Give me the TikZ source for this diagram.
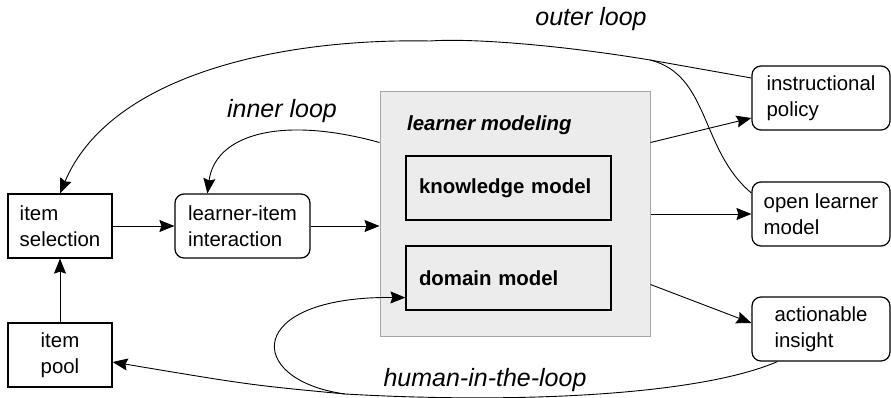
\documentclass[tikz,border=0pt]{standalone}
\usepackage{fontspec}
\setmainfont{Liberation Sans}
\usetikzlibrary{arrows.meta,calc}
\begin{document}
\begin{tikzpicture}[x=1pt,y=-1pt,
 box/.style={draw, line width=1.2pt, minimum height=64pt, align=left, inner sep=0pt, font=\fontsize{20.4}{25.5}\selectfont},
 rbox/.style={box, rounded corners=9pt},
 inbox/.style={draw, line width=1.2pt, fill=gray!15, minimum height=64pt, text width=179pt, inner xsep=13pt, inner ysep=0pt, align=left, font=\fontsize{20.4}{25}\selectfont\bfseries},
 conn/.style={line width=0.9pt, -{Stealth[length=15pt,width=12pt,inset=2pt]}},
 plainline/.style={line width=0.9pt},
 looplabel/.style={font=\fontsize{25}{30}\selectfont\itshape, anchor=base, inner sep=0pt}
]
\useasboundingbox (0,0) rectangle (891,398);

\node[box, minimum width=104pt] (sel) at (60,226) {item\\selection};
\node[box, minimum width=104pt] (pool) at (60,355) {item\\pool};
\node[rbox, minimum width=135pt] (lii) at (242.5,226) {learner-item\\interaction};
\node[draw=black!35, fill=gray!15, line width=1pt, minimum width=270pt, minimum height=244pt, inner sep=0pt] (lm) at (515,214) {};
\node[font=\fontsize{20.4}{25}\selectfont\bfseries\itshape, anchor=base west, inner sep=0pt] (lmlabel) at (407,131) {learner modeling};
\node[inbox] (km) at (508.5,188) {knowledge model};
\node[inbox] (dom) at (508.5,278) {domain model};
\node[rbox, minimum width=138pt] (ip) at (821,98) {instructional\\policy};
\node[rbox, minimum width=138pt] (olm) at (821,214) {open learner\\model};
\node[rbox, minimum width=138pt] (ai) at (821,329) {actionable\\insight};

\node[looplabel] (outer) at (591,26) {outer loop};
\node[looplabel] (inner) at (282,118) {inner loop};
\node[looplabel] (human) at (485,386) {human-in-the-loop};

% main flow
\draw[conn] (sel.east) -- (lii.west);
\draw[conn] (lii.east) -- (lii.east -| lm.west);
\draw[conn] (pool.north) -- (sel.south);
\draw[conn] ($(lm.north east)+(0,51)$) -- ($(ip.west)+(0,20)$);
\draw[conn] (lm.east) -- (olm.west);
\draw[conn] ($(lm.north east)+(0,193)$) -- ($(ai.west)+(0,-6)$);

% inner loop
\draw[conn] ($(lm.north west)+(0,51)$) .. controls (280,115) and (215,135) .. ($(lii.north west)+(33,0)$);

% outer loop
\coordinate (oj) at (650,60);
\draw[conn] ($(ip.west)+(0,-20)$) -- (oj) .. controls (560,45) and (470,38) .. (430,41) .. controls (280,38) and (110,75) .. (sel.north);
\draw[plainline] ($(olm.west)+(0,-21)$) .. controls (700,150) and (710,75) .. (oj);

% human-in-the-loop
\coordinate (hj) at (345,394);
\draw[plainline] ($(ai.south west)+(26,0)$) .. controls (700,395) and (520,404) .. (hj);
\draw[conn] (hj) .. controls (250,385) .. ($(pool.east)+(0,7)$);
\draw[conn] (hj) .. controls (244,380) and (244,296) .. ($(dom.south west)+(0,-13)$);
\end{tikzpicture}
\end{document}
